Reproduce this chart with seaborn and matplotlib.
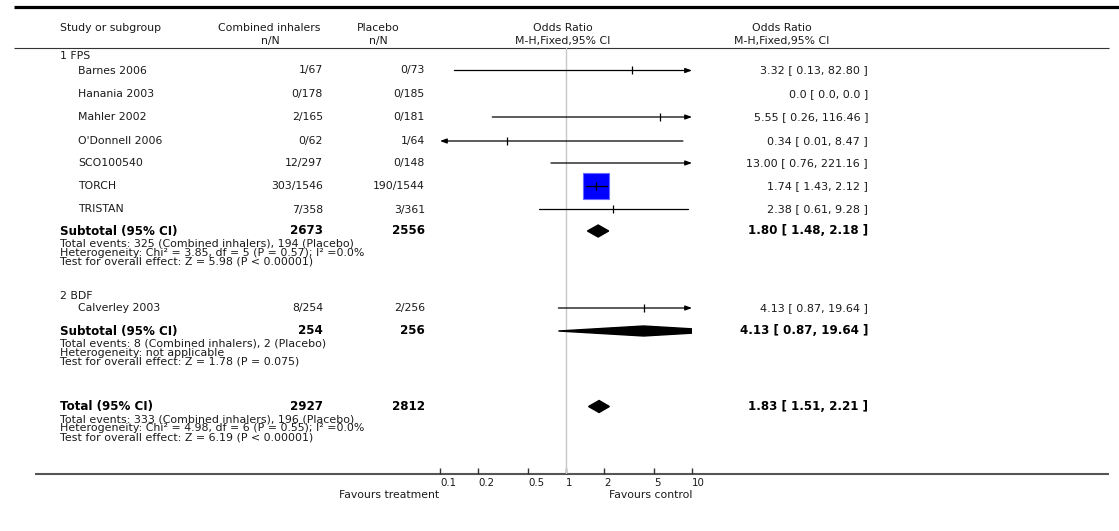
import matplotlib
matplotlib.use("Agg")
import matplotlib.pyplot as plt
from matplotlib.ticker import NullLocator
import seaborn as sns
import pandas as pd

sns.set_theme(style="white")
plt.rcParams["font.family"] = ["DejaVu Sans"]

# ---- values ----
subgroups = ["1 FPS", "2 BDF"]
study_names = ["Barnes 2006", "Hanania 2003", "Mahler 2002", "O'Donnell 2006",
               "SCO100540", "TORCH", "TRISTAN", "Calverley 2003"]
treat_events = [1, 0, 2, 0, 12, 303, 7, 8]
treat_total = [67, 178, 165, 62, 297, 1546, 358, 254]
ctrl_events = [0, 0, 0, 1, 0, 190, 3, 2]
ctrl_total = [73, 185, 181, 64, 148, 1544, 361, 256]
or_est = [3.32, 0.0, 5.55, 0.34, 13.00, 1.74, 2.38, 4.13]
or_low = [0.13, 0.0, 0.26, 0.01, 0.76, 1.43, 0.61, 0.87]
or_high = [82.80, 0.0, 116.46, 8.47, 221.16, 2.12, 9.28, 19.64]
big_box_study = "TORCH"

pooled_labels = ["Subtotal (95% CI)", "Subtotal (95% CI)", "Total (95% CI)"]
pooled_treat_total = [2673, 254, 2927]
pooled_ctrl_total = [2556, 256, 2812]
pooled_est = [1.80, 4.13, 1.83]
pooled_low = [1.48, 0.87, 1.51]
pooled_high = [2.18, 19.64, 2.21]
pooled_notes = [
    ["Total events: 325 (Combined inhalers), 194 (Placebo)",
     "Heterogeneity: Chi² = 3.85, df = 5 (P = 0.57); I² =0.0%",
     "Test for overall effect: Z = 5.98 (P < 0.00001)"],
    ["Total events: 8 (Combined inhalers), 2 (Placebo)",
     "Heterogeneity: not applicable",
     "Test for overall effect: Z = 1.78 (P = 0.075)"],
    ["Total events: 333 (Combined inhalers), 196 (Placebo)",
     "Heterogeneity: Chi² = 4.98, df = 6 (P = 0.55); I² =0.0%",
     "Test for overall effect: Z = 6.19 (P < 0.00001)"],
]

x_ticks = [0.1, 0.2, 0.5, 1, 2, 5, 10]
x_tick_labels = ["0.1", "0.2", "0.5", "1", "2", "5", "10"]

# ---- layout (pixels of the 1119x531 canvas) ----
W, H = 1119, 531
group_y = [56, 296]
study_y = [70.5, 94, 117, 141, 163, 186, 209.5, 308]
pooled_y = [231, 331, 406.5]
note_dy = [12.5, 21.7, 30.7]
diamond_half = [6, 5, 6]
X_LEFT, X_RIGHT = 440, 692     # where 0.1 and 10 sit
Y_TOP, Y_BOT = 48, 474
LO_LIM, HI_LIM = 0.1, 10

TXT = "#1a1a1a"
FS = 7.8
FS_NOTE = 7.9
FS_CI = 8.0
FS_BOLD = 8.6


def fmt_ci(est, lo, hi):
    if est == 0:
        return "0.0 [ 0.0, 0.0 ]"
    return f"{est:.2f} [ {lo:.2f}, {hi:.2f} ]"


fig = plt.figure(figsize=(W / 100, H / 100), dpi=100, facecolor="white")

# background axes in pixel units for the table part
bg = fig.add_axes([0, 0, 1, 1])
bg.set_xlim(0, W)
bg.set_ylim(H, 0)
bg.axis("off")

bg.hlines(7, 14, W, color="black", lw=2.3)
bg.hlines(Y_TOP, 14, 1109, color="#333333", lw=0.8)
bg.hlines(Y_BOT, 35, 1109, color="#555555", lw=1.5)

# header
bg.text(60, 28, "Study or subgroup", fontsize=FS, color=TXT, va="center")
bg.text(269, 28, "Combined inhalers", fontsize=FS, color=TXT, va="center", ha="center")
bg.text(270, 41, "n/N", fontsize=FS, color=TXT, va="center", ha="center")
bg.text(378, 28, "Placebo", fontsize=FS, color=TXT, va="center", ha="center")
bg.text(378, 41, "n/N", fontsize=FS, color=TXT, va="center", ha="center")
for cx in (563, 782):
    bg.text(cx, 28, "Odds Ratio", fontsize=FS, color=TXT, va="center", ha="center")
    bg.text(cx, 41, "M-H,Fixed,95% CI", fontsize=FS, color=TXT, va="center", ha="center")

# subgroup headings
for name, y in zip(subgroups, group_y):
    bg.text(60, y, name, fontsize=FS, color=TXT, va="center")

# study rows
for i, name in enumerate(study_names):
    y = study_y[i]
    bg.text(78, y, name, fontsize=FS, color=TXT, va="center")
    bg.text(323, y, f"{treat_events[i]}/{treat_total[i]}", fontsize=FS, color=TXT,
            va="center", ha="right")
    bg.text(425, y, f"{ctrl_events[i]}/{ctrl_total[i]}", fontsize=FS, color=TXT,
            va="center", ha="right")
    bg.text(868, y, fmt_ci(or_est[i], or_low[i], or_high[i]), fontsize=FS_CI,
            color=TXT, va="center", ha="right")

# pooled rows
for j, lab in enumerate(pooled_labels):
    y = pooled_y[j]
    bg.text(60, y, lab, fontsize=FS_BOLD, fontweight="bold", color="black", va="center")
    bg.text(323, y, str(pooled_treat_total[j]), fontsize=FS_BOLD, fontweight="bold",
            color="black", va="center", ha="right")
    bg.text(425, y, str(pooled_ctrl_total[j]), fontsize=FS_BOLD, fontweight="bold",
            color="black", va="center", ha="right")
    bg.text(868, y, fmt_ci(pooled_est[j], pooled_low[j], pooled_high[j]),
            fontsize=FS_BOLD, fontweight="bold", color="black", va="center", ha="right")
    for line, dy in zip(pooled_notes[j], note_dy):
        bg.text(60, y + dy, line, fontsize=FS_NOTE, color=TXT, va="center")

bg.text(439, 495, "Favours treatment", fontsize=FS, color=TXT, va="center", ha="right")
bg.text(692, 495, "Favours control", fontsize=FS, color=TXT, va="center", ha="right")

# forest axes on a log odds-ratio scale
ax = fig.add_axes([X_LEFT / W, 1 - Y_BOT / H, (X_RIGHT - X_LEFT) / W, (Y_BOT - Y_TOP) / H])
ax.set_facecolor("none")
ax.set_xscale("log")
ax.set_xlim(LO_LIM, HI_LIM)
ax.set_ylim(Y_BOT, Y_TOP)
for sp in ax.spines.values():
    sp.set_visible(False)
ax.set_yticks([])
ax.set_xticks(x_ticks)
ax.set_xticklabels(x_tick_labels, ha="left")
ax.xaxis.set_minor_locator(NullLocator())
ax.tick_params(axis="x", bottom=True, direction="in", length=4, width=1,
               color="#333333", pad=3, labelsize=7.4, labelcolor=TXT)

ax.axvline(1, color="#c8c8c8", lw=1, zorder=1)

df = pd.DataFrame({"study": study_names, "y": study_y, "est": or_est,
                   "lo": or_low, "hi": or_high})

# weight box
box = df[df["study"] == big_box_study]
sns.scatterplot(data=box, x="est", y="y", marker="s", s=330, color="#0000ff",
                edgecolor="#6a6aff", linewidth=0.8, ax=ax, zorder=2, legend=False)

arrow = dict(arrowstyle="-|>,head_length=0.6,head_width=0.22", color="black",
             lw=0.9, shrinkA=0, shrinkB=0, mutation_scale=6.5)
for _, r in df.iterrows():
    if r["hi"] <= 0:
        continue
    left, right = max(r["lo"], LO_LIM), min(r["hi"], HI_LIM)
    if r["hi"] > HI_LIM:
        ax.annotate("", xy=(HI_LIM, r["y"]), xytext=(left, r["y"]),
                    arrowprops=arrow, zorder=3)
    elif r["lo"] < LO_LIM:
        ax.annotate("", xy=(LO_LIM, r["y"]), xytext=(right, r["y"]),
                    arrowprops=arrow, zorder=3)
    else:
        ax.plot([left, right], [r["y"], r["y"]], color="black", lw=0.9, zorder=3)

pts = df[(df["est"] > LO_LIM) & (df["est"] < HI_LIM)]
sns.scatterplot(data=pts, x="est", y="y", marker="|", s=40, color="black",
                linewidth=0.9, ax=ax, zorder=4, legend=False)

# pooled diamonds
for j in range(len(pooled_labels)):
    y, h = pooled_y[j], diamond_half[j]
    ax.fill([pooled_low[j], pooled_est[j], pooled_high[j], pooled_est[j]],
            [y, y - h, y, y + h], color="black", zorder=3)

ax.set_xlabel("")
ax.set_ylabel("")

fig.savefig("out.png", dpi=100, facecolor="white")
